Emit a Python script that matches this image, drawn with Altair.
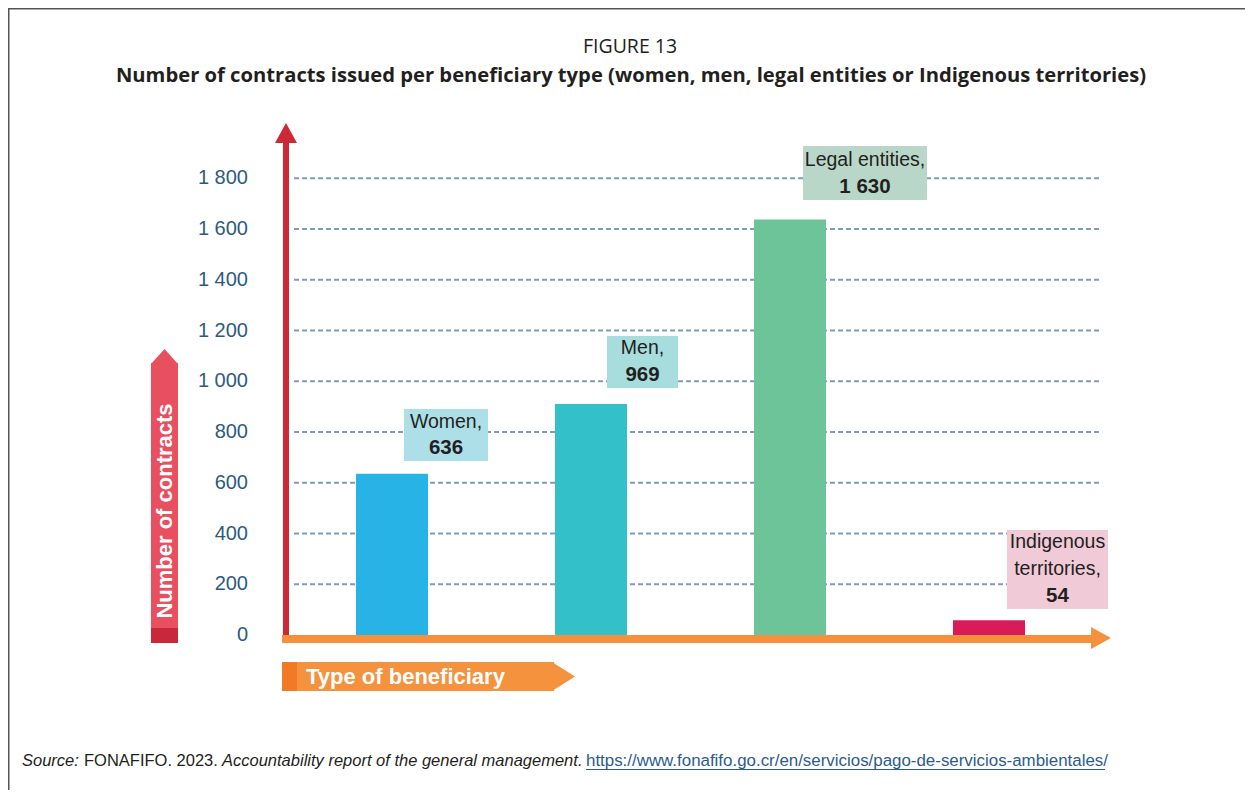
import altair as alt
import pandas as pd

# ---------------- data ----------------
categories = ["Women", "Men", "Legal entities", "Indigenous territories"]
bar_values = [636, 910, 1638, 58]           # bar heights as drawn
label_names = ["Women,", "Men,", "Legal entities,", "Indigenous territories,"]
label_values = ["636", "969", "1 630", "54"]  # values printed in the boxes
bar_colors = ["#27B3E5", "#33C0C9", "#6DC499", "#D91B5C"]
box_colors = ["#ADDFE9", "#A8DDDE", "#B9D7C9", "#F1CAD8"]
y_ticks = [0, 200, 400, 600, 800, 1000, 1200, 1400, 1600, 1800]
grid_values = [200, 400, 600, 800, 1000, 1200, 1400, 1600, 1800]

fig_label = "FIGURE 13"
fig_title = ("Number of contracts issued per beneficiary type "
             "(women, men, legal entities or Indigenous territories)")
y_title = "Number of contracts"
x_title = "Type of beneficiary"
src_label = "Source:"
src_pub = "FONAFIFO. 2023."
src_doc = "Accountability report of the general management."
src_url = "https://www.fonafifo.go.cr/en/servicios/pago-de-servicios-ambientales/"

# ---------------- styles ----------------
W, H = 1237, 782
TXT = "#231F20"
SANS = "Liberation Sans, Arial, sans-serif"
HUM = "Open Sans, Liberation Sans, sans-serif"

y_scale = alt.Scale(domain=[0, 1800], range=[627, 170.3])
x_scale = alt.Scale(domain=categories, range=[284.5, 1080.5],
                    paddingInner=0.638, paddingOuter=0.319)

bars_df = pd.DataFrame({"category": categories, "value": bar_values})
grid_df = pd.DataFrame({"v": grid_values})
tick_df = pd.DataFrame({"v": y_ticks,
                        "label": [f"{v:,}".replace(",", " ") for v in y_ticks]})
one = pd.DataFrame({"a": [0]})

layers = []

# frame (top and left edges)
layers.append(alt.Chart(one).mark_rule(color="#555555", strokeWidth=1.5).encode(
    x=alt.value(0), x2=alt.value(W), y=alt.value(0.75)))
layers.append(alt.Chart(one).mark_rule(color="#555555", strokeWidth=1.5).encode(
    x=alt.value(0.75), y=alt.value(0), y2=alt.value(H)))

# titles
layers.append(alt.Chart(one).mark_text(text=fig_label, font=HUM, fontSize=19.5,
                                       color=TXT, align="center", baseline="middle").encode(
    x=alt.value(622), y=alt.value(39)))
layers.append(alt.Chart(one).mark_text(text=fig_title, font=HUM, fontSize=20.2,
                                       fontWeight="bold", color=TXT, align="center",
                                       baseline="middle").encode(
    x=alt.value(623), y=alt.value(68)))

# gridlines
layers.append(alt.Chart(grid_df).mark_rule(strokeDash=[5, 3], strokeWidth=2,
                                           color="#7F9CBD").encode(
    y=alt.Y("v:Q", scale=y_scale, axis=None),
    x=alt.value(286), x2=alt.value(1092)))

# tick labels
layers.append(alt.Chart(tick_df).mark_text(font=SANS, fontSize=20, color="#2D5B80",
                                           align="right", baseline="middle").encode(
    y=alt.Y("v:Q", scale=y_scale, axis=None),
    x=alt.value(240), text="label:N"))

# bars
layers.append(alt.Chart(bars_df).mark_bar().encode(
    x=alt.X("category:N", scale=x_scale, axis=None, sort=categories),
    y=alt.Y("value:Q", scale=y_scale, axis=None),
    color=alt.Color("category:N", scale=alt.Scale(domain=categories, range=bar_colors),
                    legend=None)))

# red y-axis arrow
layers.append(alt.Chart(one).mark_rule(color="#CC2936", strokeWidth=6).encode(
    x=alt.value(278), y=alt.value(130), y2=alt.value(634)))
layers.append(alt.Chart(one).mark_point(shape="M -1 0.95 L 1 0.95 L 0 -0.864 Z",
                                        size=484, filled=True, opacity=1,
                                        color="#CC2936", strokeWidth=0).encode(
    x=alt.value(278), y=alt.value(124.5)))

# orange x-axis arrow
layers.append(alt.Chart(one).mark_rule(color="#F5913C", strokeWidth=8).encode(
    x=alt.value(274), x2=alt.value(1088), y=alt.value(631)))
layers.append(alt.Chart(one).mark_point(shape="M -0.95 -1 L -0.95 1 L 0.864 0 Z",
                                        size=484, filled=True, opacity=1,
                                        color="#F5913C", strokeWidth=0).encode(
    x=alt.value(1093.5), y=alt.value(630)))

# y-axis title banner
layers.append(alt.Chart(one).mark_rect(color="#E8505F").encode(
    x=alt.value(143), x2=alt.value(170), y=alt.value(355), y2=alt.value(620)))
layers.append(alt.Chart(one).mark_rect(color="#C9283B").encode(
    x=alt.value(143), x2=alt.value(170), y=alt.value(620), y2=alt.value(635)))
layers.append(alt.Chart(one).mark_point(shape="M -1 0.6 L 1 0.6 L 0 -0.52 Z",
                                        size=729, filled=True, opacity=1,
                                        color="#E8505F", strokeWidth=0).encode(
    x=alt.value(156.5), y=alt.value(348)))
layers.append(alt.Chart(one).mark_text(text=y_title, font=SANS, fontSize=22,
                                       fontWeight="bold", color="white", angle=270,
                                       align="center", baseline="middle").encode(
    x=alt.value(157), y=alt.value(503)))

# x-axis title banner
layers.append(alt.Chart(one).mark_rect(color="#F5923D").encode(
    x=alt.value(274), x2=alt.value(546), y=alt.value(654), y2=alt.value(683)))
layers.append(alt.Chart(one).mark_rect(color="#F07A26").encode(
    x=alt.value(274), x2=alt.value(289), y=alt.value(654), y2=alt.value(683)))
layers.append(alt.Chart(one).mark_point(shape="M -0.83 -1 L -0.83 1 L 0.76 0 Z",
                                        size=841, filled=True, opacity=1,
                                        color="#F5923D", strokeWidth=0).encode(
    x=alt.value(556), y=alt.value(668.5)))
layers.append(alt.Chart(one).mark_text(text=x_title, font=SANS, fontSize=22,
                                       fontWeight="bold", color="white",
                                       align="left", baseline="middle").encode(
    x=alt.value(298), y=alt.value(669)))

# value label boxes (annotation placement)
boxes = [
    # x0, x1, y0, y1, text center x, line y positions
    (396, 480, 401, 453, 438, [414, 440]),
    (599, 670, 328, 380, 634.5, [340, 367]),
    (795, 919, 138, 192, 857, [152, 179]),
    (999, 1100, 522, 601, 1049.5, [534, 561, 588]),
]
for i, (x0, x1, y0, y1, cx, ys) in enumerate(boxes):
    layers.append(alt.Chart(one).mark_rect(color=box_colors[i]).encode(
        x=alt.value(x0), x2=alt.value(x1), y=alt.value(y0), y2=alt.value(y1)))
    name = label_names[i]
    if len(ys) == 3:
        words = name.split(" ")
        lines = [words[0], " ".join(words[1:])]
    else:
        lines = [name]
    for j, line in enumerate(lines):
        layers.append(alt.Chart(one).mark_text(text=line, font=SANS, fontSize=19.5,
                                               color=TXT, align="center",
                                               baseline="middle").encode(
            x=alt.value(cx), y=alt.value(ys[j])))
    layers.append(alt.Chart(one).mark_text(text=label_values[i], font=SANS,
                                           fontSize=20.5, fontWeight="bold", color=TXT,
                                           align="center", baseline="middle").encode(
        x=alt.value(cx), y=alt.value(ys[-1])))

# source line
SY = 753
layers.append(alt.Chart(one).mark_text(text=src_label, font=SANS, fontSize=16.5,
                                       fontStyle="italic", color=TXT, align="left",
                                       baseline="middle").encode(
    x=alt.value(14), y=alt.value(SY)))
layers.append(alt.Chart(one).mark_text(text=src_pub, font=SANS, fontSize=16.5,
                                       color=TXT, align="left", baseline="middle").encode(
    x=alt.value(76), y=alt.value(SY)))
layers.append(alt.Chart(one).mark_text(text=src_doc, font=SANS, fontSize=16.5,
                                       fontStyle="italic", color=TXT, align="left",
                                       baseline="middle").encode(
    x=alt.value(214), y=alt.value(SY)))
layers.append(alt.Chart(one).mark_text(text=src_url, font=SANS, fontSize=16.9,
                                       color="#2B5C8F", align="left",
                                       baseline="middle").encode(
    x=alt.value(578), y=alt.value(SY)))
layers.append(alt.Chart(one).mark_rule(color="#2B5C8F", strokeWidth=1).encode(
    x=alt.value(578), x2=alt.value(1097), y=alt.value(SY + 8.5)))

chart = alt.layer(*layers).properties(
    width=W, height=H,
    autosize=alt.AutoSizeParams(type="none"),
    padding=0,
    background="white",
).configure_view(stroke=None)

chart.save("out.html", embed_options={"renderer": "svg", "actions": False})
